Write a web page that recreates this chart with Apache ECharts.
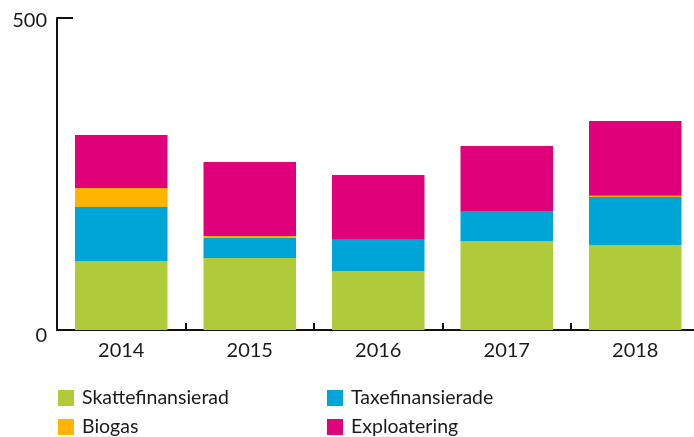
<!DOCTYPE html>
<html>
<head>
<meta charset="utf-8">
<script src="https://cdn.jsdelivr.net/npm/echarts@6/dist/echarts.min.js"></script>
<style>
html,body{margin:0;padding:0;background:#fff;}
#c{width:694px;height:437px;}
</style>
</head>
<body>
<div id="c"></div>
<script>
const categories = ['2014', '2015', '2016', '2017', '2018'];
const skattefinansierad = [110.6, 115.4, 94.6, 142.6, 136.2];
const taxefinansierade = [86.4, 32.0, 50.1, 47.0, 76.8];
const biogas = [30.6, 3.2, 0, 0, 2.3];
const exploatering = [84.9, 118.6, 103.7, 105.3, 119.7];
const yTicks = [0, 500];

const font = 'Lato, "Open Sans", sans-serif';
const colors = {
  Skattefinansierad: '#B0CB3A',
  Taxefinansierade: '#00A5D8',
  Biogas: '#FFB500',
  Exploatering: '#E0007A'
};

const chart = echarts.init(document.getElementById('c'));
function bar(name, data) {
  return {
    name: name, type: 'bar', stack: 'total', data: data,
    barCategoryGap: '28%',
    itemStyle: { color: colors[name] },
    emphasis: { disabled: true }
  };
}
const legendText = { fontFamily: font, fontSize: 19.5, color: '#1a1a1a', lineHeight: 16, padding: [0, 0, 0, 3] };
chart.setOption({
  animation: false,
  grid: { left: 57, width: 642.5, top: 18, bottom: 107, containLabel: false, outerBoundsMode: 'none' },
  legend: [
    {
      data: ['Skattefinansierad', 'Biogas'], orient: 'vertical', left: 58, top: 388, height: 90,
      itemWidth: 16, itemHeight: 16, itemGap: 9, icon: 'rect', padding: 0,
      textStyle: legendText
    },
    {
      data: ['Taxefinansierade', 'Exploatering'], orient: 'vertical', left: 327, top: 388, height: 90,
      itemWidth: 16, itemHeight: 16, itemGap: 9, icon: 'rect', padding: 0,
      textStyle: legendText
    }
  ],
  xAxis: {
    type: 'category', data: categories,
    axisLine: { show: true, lineStyle: { color: '#111', width: 2 } },
    axisTick: { show: true, inside: true, length: 7, lineStyle: { color: '#111', width: 2 } },
    axisLabel: { fontFamily: font, fontSize: 20, color: '#1a1a1a', margin: 11 }
  },
  yAxis: {
    type: 'value', min: 0, max: 500, interval: 500,
    axisLine: { show: true, lineStyle: { color: '#111', width: 2 } },
    axisTick: { show: true, inside: true, length: 16, lineStyle: { color: '#111', width: 2 } },
    splitLine: { show: false },
    axisLabel: {
      fontFamily: font, fontSize: 20, color: '#1a1a1a', margin: 10,
      verticalAlign: 'middle',
      customValues: yTicks,
      formatter: function (v) { return v === 0 ? '{lo|0}' : '{hi|' + v + '}'; },
      rich: {
        lo: { fontFamily: font, fontSize: 20, color: '#1a1a1a', padding: [12, 0, 0, 0] },
        hi: { fontFamily: font, fontSize: 20, color: '#1a1a1a', padding: [6, 0, 0, 0] }
      }
    }
  },
  series: [
    bar('Skattefinansierad', skattefinansierad),
    bar('Taxefinansierade', taxefinansierade),
    bar('Biogas', biogas),
    bar('Exploatering', exploatering)
  ]
});
</script>
</body>
</html>
